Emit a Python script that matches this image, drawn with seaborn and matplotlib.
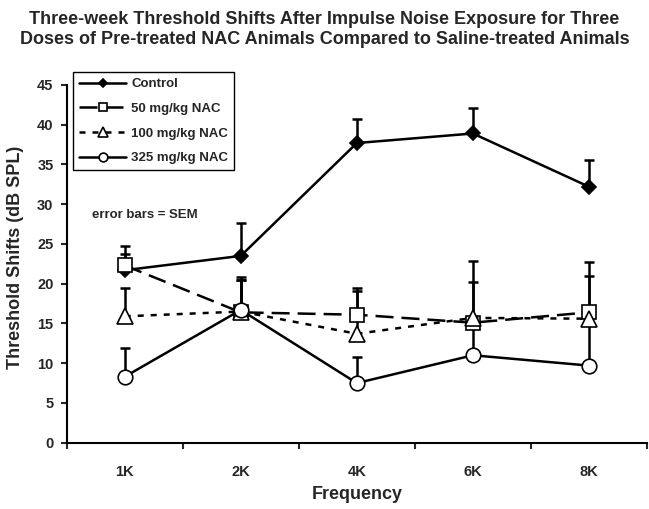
import numpy as np
import pandas as pd
import matplotlib
matplotlib.use("Agg")
import matplotlib.pyplot as plt
import seaborn as sns

# ---- data ----
freqs = ["1K", "2K", "4K", "6K", "8K"]
control = [21.7, 23.5, 37.7, 38.9, 32.2]
control_sem = [3.0, 4.1, 3.0, 3.2, 3.4]
nac50 = [22.3, 16.4, 16.1, 15.1, 16.4]
nac50_sem = [1.5, 4.1, 3.4, 7.8, 6.3]
nac100 = [15.9, 16.5, 13.7, 15.7, 15.6]
nac100_sem = [3.6, 4.3, 5.4, 4.5, 5.4]
nac325 = [8.3, 16.7, 7.5, 11.0, 9.7]
nac325_sem = [3.6, 3.8, 3.3, 4.3, 5.5]
series_names = ["Control", "50 mg/kg NAC", "100 mg/kg NAC", "325 mg/kg NAC"]
yticks = [0, 5, 10, 15, 20, 25, 30, 35, 40, 45]

sns.set_style("ticks")
plt.rcParams["font.family"] = ["Liberation Sans", "DejaVu Sans"]
plt.rcParams["font.weight"] = "bold"

W, H = 649, 509
fig = plt.figure(figsize=(W / 100, H / 100), dpi=100)
x0, x1, ytop, ybot = 66.7, 647.0, 85.0, 442.7
ax = fig.add_axes([x0 / W, 1 - ybot / H, (x1 - x0) / W, (ybot - ytop) / H])

lw = 1.8
styles = [
    dict(marker="D", markersize=7.5, markerfacecolor="black", linestyle="-"),
    dict(marker="s", markersize=10, markerfacecolor="white", linestyle=(0, (7.2, 3.2))),
    dict(marker="^", markersize=11, markerfacecolor="white", linestyle=(0, (2.4, 2.8))),
    dict(marker="o", markersize=10.5, markerfacecolor="white", linestyle="-"),
]
values = [control, nac50, nac100, nac325]
sems = [control_sem, nac50_sem, nac100_sem, nac325_sem]

for name, vals, sem, st in zip(series_names, values, sems, styles):
    df = pd.DataFrame({"Frequency": freqs, "Shift": vals})
    eb = ax.errorbar(df["Frequency"], df["Shift"],
                     yerr=[np.zeros(len(sem)), np.array(sem)],
                     fmt="none", ecolor="black", elinewidth=lw,
                     capsize=3.8, capthick=lw, zorder=1.5)
    eb[1][0].set_visible(False)  # no lower caps
    sns.lineplot(data=df, x="Frequency", y="Shift", ax=ax, sort=False,
                 errorbar=None, color="black", linewidth=lw,
                 markeredgecolor="black", markeredgewidth=1.2,
                 label=name, zorder=2, **st)

ax.set_xlim(-0.5, 4.5)
ax.set_ylim(0, 45)
ax.set_xticks(np.arange(-0.5, 4.6, 1.0))
ax.set_xticklabels([""] * 6)
ax.set_xticks(range(len(freqs)), minor=True)
ax.set_xticklabels(freqs, minor=True, fontsize=10.5, fontweight="bold")
ax.tick_params(axis="x", which="major", direction="out", length=4.5, width=1.5)
ax.tick_params(axis="x", which="minor", length=0, pad=16)
ax.set_yticks(yticks)
ax.set_yticklabels([str(v) for v in yticks], fontsize=10.5, fontweight="bold")
ax.tick_params(axis="y", direction="out", length=4.5, width=1.5, pad=5)

for s in ["top", "right"]:
    ax.spines[s].set_visible(False)
for s in ["left", "bottom"]:
    ax.spines[s].set_linewidth(1.5)
    ax.spines[s].set_color("black")
ax.grid(False)

ax.set_xlabel("Frequency", fontsize=13, fontweight="bold")
ax.xaxis.set_label_coords(0.5, (ybot - 486) / (ybot - ytop))
ax.set_ylabel("Threshold Shifts (dB SPL)", fontsize=13, fontweight="bold")
ax.yaxis.set_label_coords((24 - x0) / (x1 - x0), (ybot - 257.5) / (ybot - ytop))

leg = ax.legend(loc="upper left", bbox_to_anchor=(73 / W, 1 - 72 / H),
                bbox_transform=fig.transFigure, borderaxespad=0,
                frameon=True, fancybox=False, framealpha=1, edgecolor="black",
                prop={"size": 9.5, "weight": "bold"}, handlelength=3.6,
                handletextpad=0.35, borderpad=0.45, labelspacing=0.95,
                markerscale=0.6)
leg.get_frame().set_linewidth(1.0)

fig.text(91.7 / W, 1 - 215 / H, "error bars = SEM", fontsize=9.5,
         fontweight="bold", ha="left", va="center")

fig.text(0.5, 1 - 29.2 / H,
         "Three-week Threshold Shifts After Impulse Noise Exposure for Three\n"
         "Doses of Pre-treated NAC Animals Compared to Saline-treated Animals",
         fontsize=13, fontweight="bold", ha="center", va="center", linespacing=1.25)

fig.savefig("out.png", dpi=100, facecolor="white")
